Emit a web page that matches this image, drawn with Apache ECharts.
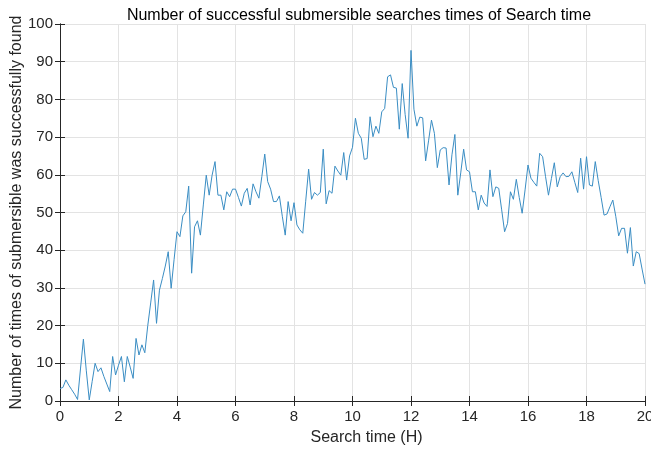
<!DOCTYPE html>
<html>
<head>
<meta charset="utf-8">
<script src="https://cdn.jsdelivr.net/npm/echarts@6/dist/echarts.min.js"></script>
<style>
  html, body { margin: 0; padding: 0; background: #ffffff; }
  #chart { width: 651px; height: 454px; }
</style>
</head>
<body>
<div id="chart"></div>
<script>
// Search time sampled every 0.1 h from 0 to 20 h
const sampleStep = 0.1;

// Number of successful finds at each sample time
const successCounts = [
  3.3, 3.6, 5.6, 4.2, 3.0, 1.8, 0.4, 8.5, 16.4, 8.0,
  0.3, 5.2, 10.0, 7.8, 8.8, 6.5, 4.5, 2.5, 11.8, 6.9,
  9.5, 11.8, 5.1, 11.8, 9.0, 6.0, 16.6, 12.2, 14.9, 12.8,
  20.0, 26.0, 32.1, 20.6, 29.4, 32.5, 35.8, 39.6, 29.9, 37.5,
  44.9, 43.6, 49.1, 50.2, 57.0, 33.9, 46.2, 47.8, 44.0, 52.0,
  59.9, 54.6, 59.9, 63.5, 54.6, 54.6, 50.7, 55.5, 54.2, 56.2,
  56.2, 54.0, 51.7, 55.1, 56.4, 52.0, 57.6, 55.5, 53.8, 59.5,
  65.5, 58.2, 56.2, 52.9, 52.9, 54.4, 49.0, 44.0, 52.9, 47.8,
  52.6, 46.7, 45.4, 44.5, 53.0, 61.5, 53.5, 55.3, 54.6, 55.3,
  66.8, 52.3, 55.8, 55.1, 62.3, 61.0, 59.9, 65.9, 58.6, 65.0,
  67.3, 75.0, 71.0, 69.7, 64.1, 64.3, 75.4, 70.1, 72.9, 71.0,
  76.7, 77.6, 86.0, 86.5, 83.2, 83.0, 72.1, 84.2, 76.0, 69.7,
  93.0, 77.4, 72.9, 75.3, 75.1, 63.7, 69.0, 74.5, 71.0, 61.9,
  66.6, 67.2, 67.1, 57.3, 65.3, 70.7, 54.6, 60.5, 66.8, 61.3,
  60.8, 55.5, 55.5, 50.7, 54.6, 52.5, 51.6, 61.3, 54.2, 56.8,
  56.4, 50.7, 44.9, 47.1, 55.5, 53.5, 58.8, 54.0, 49.8, 56.0,
  62.6, 59.1, 58.0, 57.0, 65.7, 64.8, 59.5, 54.6, 59.0, 63.2,
  56.8, 59.5, 60.5, 59.5, 59.6, 60.8, 58.0, 55.3, 64.4, 56.2,
  64.8, 57.3, 57.0, 63.5, 58.5, 54.0, 49.3, 49.6, 51.5, 53.3,
  49.0, 43.8, 45.8, 45.8, 39.2, 46.0, 35.8, 39.6, 39.1, 35.0,
  31.0
];

// Axis ranges and tick spacing
const xTicks = { min: 0, max: 20, interval: 2 };
const yTicks = { min: 0, max: 100, interval: 10 };

const titleText = 'Number of successful submersible searches times of Search time';
const xLabel = 'Search time (H)';
const yLabel = 'Number of times of submersible was successfully found';

const seriesData = successCounts.map((v, i) => [Math.round(i * sampleStep * 10) / 10, v]);

const FONT = '"Liberation Sans", Arial, sans-serif';
const INK = '#262626';

const gridLine = { show: true, lineStyle: { color: '#e3e3e3', width: 1 } };
const axisLineStyle = { show: true, lineStyle: { color: INK, width: 1 } };
const innerTicks = { show: true, inside: true, length: 5, lineStyle: { color: INK, width: 1 } };

const chart = echarts.init(document.getElementById('chart'), null, { renderer: 'canvas' });

chart.setOption({
  animation: false,
  backgroundColor: '#ffffff',
  title: {
    text: titleText,
    left: 354,
    top: 3,
    textAlign: 'center',
    textStyle: { fontFamily: FONT, fontSize: 16, fontWeight: 'normal', color: '#000000' }
  },
  grid: { left: 60, right: 6, top: 24, bottom: 53, containLabel: false, outerBoundsMode: 'none' },
  xAxis: [
    {
      type: 'value', position: 'bottom',
      min: xTicks.min, max: xTicks.max, interval: xTicks.interval,
      name: xLabel, nameLocation: 'middle', nameGap: 29, nameMoveOverlap: false,
      nameTextStyle: { fontFamily: FONT, fontSize: 16, color: INK, padding: [0, 0, 0, 28] },
      axisLine: axisLineStyle, axisTick: innerTicks,
      axisLabel: { fontFamily: FONT, fontSize: 15, color: INK, margin: 8 },
      splitLine: gridLine
    },
    {
      type: 'value', position: 'top',
      min: xTicks.min, max: xTicks.max, interval: xTicks.interval,
      axisLine: axisLineStyle, axisTick: innerTicks,
      axisLabel: { show: false }, splitLine: { show: false }
    }
  ],
  yAxis: [
    {
      type: 'value', position: 'left',
      min: yTicks.min, max: yTicks.max, interval: yTicks.interval,
      name: yLabel, nameLocation: 'middle', nameGap: 35, nameRotate: 90, nameMoveOverlap: false,
      nameTextStyle: { fontFamily: FONT, fontSize: 16, color: INK },
      axisLine: axisLineStyle, axisTick: innerTicks,
      axisLabel: { fontFamily: FONT, fontSize: 15, color: INK, margin: 7 },
      splitLine: gridLine
    },
    {
      type: 'value', position: 'right',
      min: yTicks.min, max: yTicks.max, interval: yTicks.interval,
      axisLine: axisLineStyle, axisTick: innerTicks,
      axisLabel: { show: false }, splitLine: { show: false }
    }
  ],
  series: [
    {
      type: 'line',
      xAxisIndex: 0, yAxisIndex: 0,
      data: seriesData,
      showSymbol: false,
      symbol: 'none',
      lineStyle: { color: '#3a8dc3', width: 1 },
      z: 5
    }
  ]
});
</script>
</body>
</html>
